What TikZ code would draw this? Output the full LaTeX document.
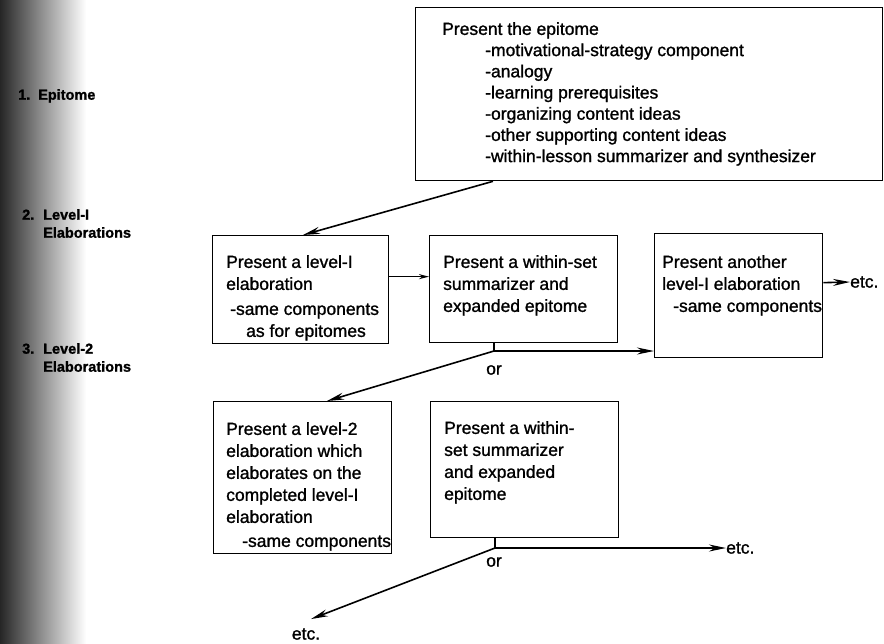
\documentclass[tikz,border=0pt]{standalone}
\usepackage{fontspec}
\setmainfont{Liberation Sans}[FakeBold=1.2]
\usetikzlibrary{arrows.meta}

\begin{document}
\begin{tikzpicture}[x=1pt,y=-1pt,
    panel/.style={draw,line width=1.3pt,anchor=north west,inner sep=0},
    txt/.style={anchor=north west,inner sep=0,align=left,font=\fontsize{17.5}{22}\selectfont},
    lbl/.style={anchor=north west,inner sep=0,align=left,font=\bfseries\fontsize{14.5}{18}\selectfont},
    word/.style={inner sep=0,font=\fontsize{17.5}{22}\selectfont},
    link/.style={line width=1.6pt},
    arr/.style={link,-{Stealth[length=17pt,width=7pt]}}]

\useasboundingbox (0,0) rectangle (884,643);
% scanned edge
\shade[left color=black!85,middle color=black!25,right color=white] (0,0) rectangle (86,643);

% level labels
\node[lbl] (row1) at (18,89) {\makebox[20pt][l]{1.}Epitome};
\node[lbl] (row2) at (22,209) {\makebox[21pt][l]{2.}Level-I\\\hspace*{21pt}Elaborations};
\node[lbl] (row3) at (22,343) {\makebox[21pt][l]{3.}Level-2\\\hspace*{21pt}Elaborations};

% boxes
\node[panel,minimum width=467,minimum height=173] (epitome) at (415,7) {};
\node[panel,minimum width=176,minimum height=108] (elab1) at (212,235) {};
\node[panel,minimum width=188,minimum height=107] (sum1) at (429,235) {};
\node[panel,minimum width=168,minimum height=124] (elab1b) at (654,233) {};
\node[panel,minimum width=178,minimum height=152] (elab2) at (213,401) {};
\node[panel,minimum width=188,minimum height=136] (sum2) at (430,401) {};

% box texts
\node[txt,font=\fontsize{17.5}{21.2}\selectfont] (epitome-t) at (442,22) {Present the epitome\\
    \hspace*{43pt}-motivational-strategy component\\
    \hspace*{43pt}-analogy\\
    \hspace*{43pt}-learning prerequisites\\
    \hspace*{43pt}-organizing content ideas\\
    \hspace*{43pt}-other supporting content ideas\\
    \hspace*{43pt}-within-lesson summarizer and synthesizer};
\node[txt] (elab1-t) at (226,255) {Present a level-I\\elaboration\\[3pt]
    \hspace*{4pt}-same components\\\hspace*{20pt}as for epitomes};
\node[txt] (sum1-t) at (443,255) {Present a within-set\\summarizer and\\expanded epitome};
\node[txt] (elab1b-t) at (662,255) {Present another\\level-I elaboration\\
    \hspace*{11pt}-same components};
\node[txt] (elab2-t) at (226,422) {Present a level-2\\elaboration which\\elaborates on the\\
    completed level-I\\elaboration\\[2pt]\hspace*{16pt}-same components};
\node[txt] (sum2-t) at (444,421) {Present a within-\\set summarizer\\and expanded\\epitome};

% small words
\node[word,anchor=west] (etc1) at (850,282) {etc.};
\node[word,anchor=west] (etc2) at (726,548) {etc.};
\node[word] (etc3) at (306,634) {etc.};
\node[word] (or1) at (494,370) {or};
\node[word] (or2) at (494,562) {or};

% connectors
\draw[arr] ([xshift=78pt]epitome.south west) -- ([xshift=91pt]elab1.north west);
\draw[link,-{Stealth[length=10pt,width=5pt]}] ([yshift=13pt]elab1.east) -- ([yshift=13pt]elab1.east -| sum1.west);
\draw[arr] ([yshift=13pt]elab1b.east) -- (etc1.west);

\coordinate (fork1) at (494,351);
\draw[link] (sum1.south -| fork1) -- (fork1);
\draw[arr] (fork1) -- (fork1 -| elab1b.west);
\draw[arr] (fork1) -- ([xshift=114pt]elab2.north west);

\coordinate (fork2) at (495,548);
\draw[link] (sum2.south -| fork2) -- (fork2);
\draw[arr] (fork2) -- (etc2.west);
\draw[arr] (fork2) -- ([shift={(5pt,9pt)}]etc3.north);
\end{tikzpicture}
\end{document}
